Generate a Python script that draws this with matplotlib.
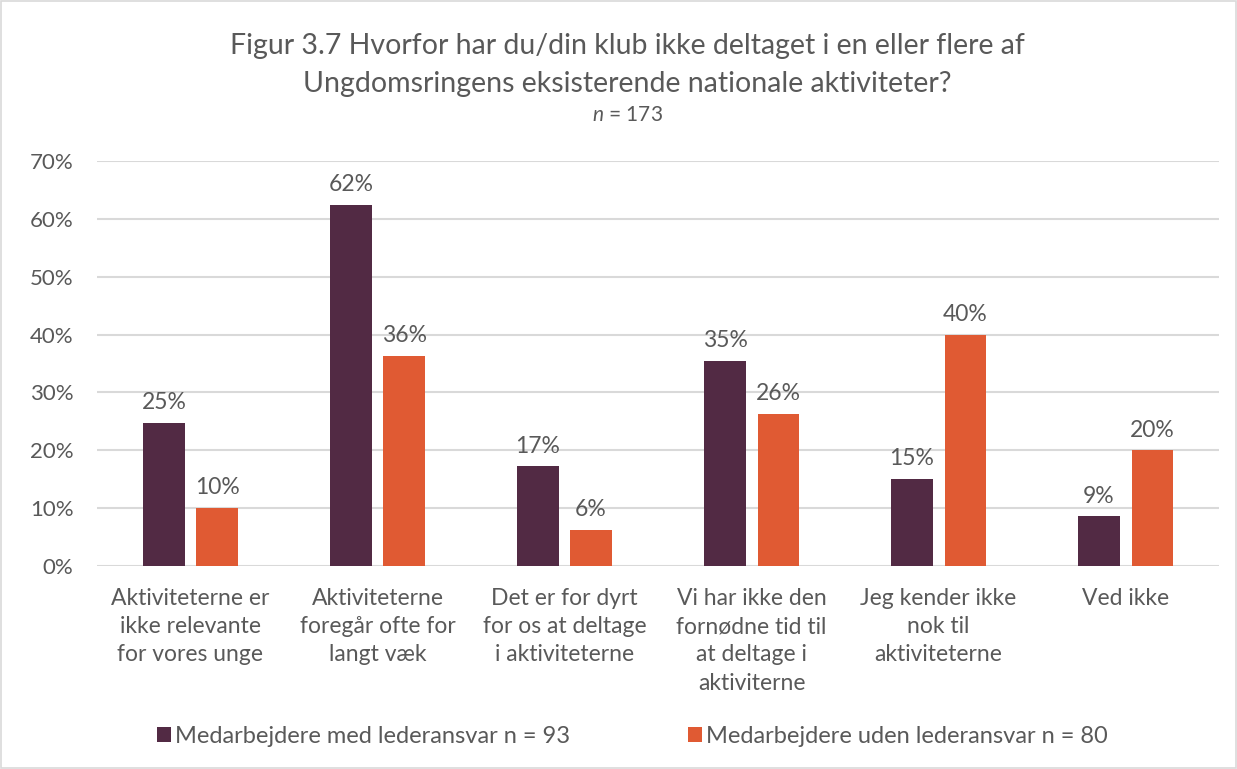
import numpy as np
import matplotlib
matplotlib.use("Agg")
import matplotlib.pyplot as plt
from matplotlib.patches import Rectangle

categories = [
    "Aktiviteterne er\nikke relevante\nfor vores unge",
    "Aktiviteterne\nforegår ofte for\nlangt væk",
    "Det er for dyrt\nfor os at deltage\ni aktiviteterne",
    "Vi har ikke den\nfornødne tid til\nat deltage i\naktiviterne",
    "Jeg kender ikke\nnok til\naktiviteterne",
    "Ved ikke",
]
med_leder = [0.247, 0.624, 0.172, 0.354, 0.151, 0.086]
uden_leder = [0.100, 0.363, 0.063, 0.263, 0.400, 0.200]
series_names = ["Medarbejdere med lederansvar n = 93",
                "Medarbejdere uden lederansvar n = 80"]
title = ("Figur 3.7 Hvorfor har du/din klub ikke deltaget i en eller flere af\n"
         "Ungdomsringens eksisterende nationale aktiviteter?")

plt.rcParams["font.family"] = ["Lato", "DejaVu Sans"]
plt.rcParams["mathtext.fontset"] = "custom"
plt.rcParams["mathtext.it"] = "Lato:italic"
plt.rcParams["mathtext.rm"] = "Lato"

txt = "#595959"
dark = "#522a44"
orange = "#e05a33"

fig = plt.figure(figsize=(12.37, 7.69), dpi=100)
fig.patches.append(Rectangle((0.001, 0.001), 0.998, 0.998, transform=fig.transFigure,
                             fill=False, edgecolor="#d9d9d9", linewidth=1.2))
ax = fig.add_axes([0.0784, 0.264, 0.9071, 0.5266])

x = np.arange(len(categories))
w = 0.22
off = 0.142
b1 = ax.bar(x - off, med_leder, w, color=dark, label=series_names[0], zorder=3)
b2 = ax.bar(x + off, uden_leder, w, color=orange, label=series_names[1], zorder=3)

for bars, vals in ((b1, med_leder), (b2, uden_leder)):
    for b, v in zip(bars, vals):
        ax.annotate(f"{round(v * 100):.0f}%", (b.get_x() + b.get_width() / 2, v),
                    xytext=(0, 7), textcoords="offset points", ha="center", va="bottom",
                    fontsize=16.5, color=txt)

ax.set_xlim(-0.5, len(categories) - 0.5)
ax.set_ylim(0, 0.7)
ax.set_yticks(np.arange(0, 0.71, 0.1))
ax.set_yticklabels([f"{int(round(t * 100))}%" for t in np.arange(0, 0.71, 0.1)])
ax.set_xticks(x)
ax.set_xticklabels(categories, linespacing=1.42)
ax.tick_params(axis="both", length=0, labelsize=16, colors=txt)
ax.tick_params(axis="x", labelsize=16.5, pad=16)
ax.tick_params(axis="y", pad=17)
ax.yaxis.grid(True, color="#d9d9d9", linewidth=1.5, zorder=0)
ax.set_axisbelow(True)
for s in ax.spines.values():
    s.set_visible(False)

fig.text(0.507, 0.957, title, ha="center", va="top", fontsize=20.5, color=txt, linespacing=1.55)
fig.text(0.507, 0.851, "$\\mathit{n}$ = 173", ha="center", va="center", fontsize=15, color=txt)

fig.legend(loc="center", bbox_to_anchor=(0.511, 0.042), ncol=2, frameon=False,
           fontsize=17, handlelength=0.6, handleheight=0.6, handletextpad=0.15,
           columnspacing=5.0, labelcolor=txt)

fig.savefig("out.png", dpi=100)
